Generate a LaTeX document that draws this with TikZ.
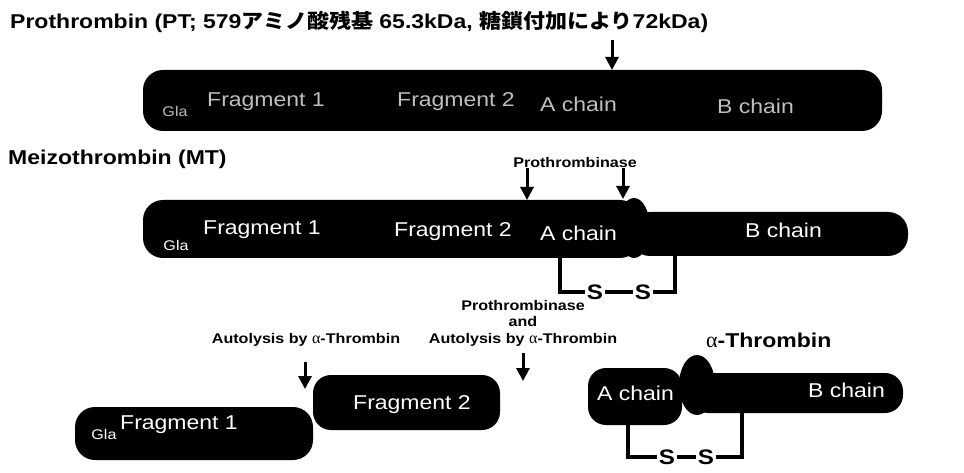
\documentclass[tikz,border=0pt]{standalone}
\usepackage{fontspec}
\setmainfont{Liberation Sans}
\newfontfamily\lab[FakeStretch=1.15]{Liberation Sans}
\newfontfamily\bartext[FakeStretch=1.15]{Liberation Sans}
\newfontfamily\cjk[FakeStretch=1.1]{Noto Sans CJK JP}
\newfontfamily\grk{Liberation Serif}
\usetikzlibrary{arrows.meta}
\begin{document}
\begin{tikzpicture}[x=1pt,y=-1pt,
  barfill/.style={fill=black},
  arr/.style={line width=3pt,-{Triangle[width=13pt,length=13pt]}},
  ssline/.style={line width=3.5pt},
  wtxt/.style={text=white,font=\bartext\fontsize{20}{22}\selectfont,inner sep=0pt},
  gtxt/.style={text=black!25,font=\bartext\fontsize{20}{22}\selectfont,inner sep=0pt},
  glatxt/.style={text=white,font=\bartext\fontsize{14}{16}\selectfont,inner sep=0pt},
  biglab/.style={font=\lab\bfseries\fontsize{20}{24}\selectfont,inner sep=0pt},
  smalllab/.style={font=\lab\bfseries\fontsize{14}{16.5}\selectfont,inner sep=0pt,align=center},
  sglyph/.style={font=\lab\bfseries\fontsize{21}{24}\selectfont,inner sep=1.5pt}
]
\useasboundingbox (0,0) rectangle (964,473);

% ---------- Prothrombin ----------
\node[biglab,anchor=west] (title) at (10,22)
  {Prothrombin (PT; 579{\cjk\bfseries\fontsize{20}{24}\selectfont アミノ酸残基} 65.3kDa, {\cjk\bfseries\fontsize{20}{24}\selectfont 糖鎖付加により}72kDa)};
\fill[barfill,rounded corners=20pt] (143,70) rectangle (882,131);
\node[glatxt,text=black!25] (pgla) at (175,111) {Gla};
\node[gtxt,anchor=west] (pf1) at (207,102) {Fragment 1};
\node[gtxt,anchor=west] (pf2) at (397,102) {Fragment 2};
\node[gtxt,anchor=west] (pa) at (540,104) {A chain};
\node[gtxt,anchor=west] (pb) at (717,106) {B chain};
\coordinate (a1s) at (612,40);
\coordinate (a1e) at (612,70);
\draw[arr] (a1s) -- (a1e);

% ---------- Meizothrombin ----------
\node[biglab,anchor=west] (mt) at (8,159) {Meizothrombin (MT)};
\node[smalllab] (ptase) at (575,162) {Prothrombinase};
\fill[barfill,rounded corners=20pt] (143,200) rectangle (640,258);
\fill[barfill,rounded corners=20pt] (630,212) rectangle (908,256);
\fill[barfill] (634,228) ellipse [x radius=16pt, y radius=30pt];
\node[glatxt] (mgla) at (176,245) {Gla};
\node[wtxt,anchor=west] (mf1) at (203,230) {Fragment 1};
\node[wtxt,anchor=west] (mf2) at (394,232) {Fragment 2};
\node[wtxt,anchor=west] (ma) at (540,233) {A chain};
\node[wtxt,anchor=west] (mb) at (745,230) {B chain};
\coordinate (a2s) at (527,168);
\coordinate (a2e) at (527,200);
\coordinate (a3s) at (623,168);
\coordinate (a3e) at (623,199);
\draw[arr] (a2s) -- (a2e);
\draw[arr] (a3s) -- (a3e);
% disulfide
\node[sglyph] (ms1) at (595,292) {S};
\node[sglyph] (ms2) at (643,292) {S};
\coordinate (msl) at (560,257);
\coordinate (msr) at (675,255);
\draw[ssline] (msl) |- (ms1.west);
\draw[ssline] (ms1.east) -- (ms2.west);
\draw[ssline] (ms2.east) -| (msr);

% ---------- cleavage labels ----------
\node[smalllab] (ptase2) at (523,323)
  {Prothrombinase\\and\\Autolysis by {\grk\mdseries\fontsize{16}{16}\selectfont α}-Thrombin};
\node[smalllab] (auto) at (306,340)
  {Autolysis by {\grk\mdseries\fontsize{16}{16}\selectfont α}-Thrombin};
\coordinate (a4s) at (523,353);
\coordinate (a4e) at (523,381);
\coordinate (a5s) at (305,362);
\coordinate (a5e) at (305,389);
\draw[arr] (a4s) -- (a4e);
\draw[arr] (a5s) -- (a5e);

% ---------- fragments ----------
\fill[barfill,rounded corners=18pt] (313,375) rectangle (500,430);
\node[wtxt,anchor=west] (ff2) at (353,405) {Fragment 2};
\fill[barfill,rounded corners=20pt] (75,407) rectangle (313,460);
\node[glatxt] (fgla) at (104,434) {Gla};
\node[wtxt,anchor=west,font=\bartext\fontsize{20}{22}\selectfont] (ff1) at (120,425) {Fragment 1};

% ---------- alpha-thrombin ----------
\node[biglab,anchor=west] (at) at (706,340) {{\grk\mdseries\fontsize{22}{22}\selectfont α}-Thrombin};
\fill[barfill,rounded corners=18pt] (588,368) rectangle (682,425);
\fill[barfill,rounded corners=18pt] (690,373) rectangle (903,413);
\fill[barfill] (697,385) ellipse [x radius=18pt, y radius=30pt];
\node[wtxt,anchor=west] (aa) at (597,393) {A chain};
\node[wtxt,anchor=west] (ab) at (808,390) {B chain};
\node[sglyph] (as1) at (667,457) {S};
\node[sglyph] (as2) at (706,457) {S};
\coordinate (asl) at (628,424);
\coordinate (asr) at (742,412);
\draw[ssline] (asl) |- (as1.west);
\draw[ssline] (as1.east) -- (as2.west);
\draw[ssline] (as2.east) -| (asr);
\end{tikzpicture}
\end{document}
